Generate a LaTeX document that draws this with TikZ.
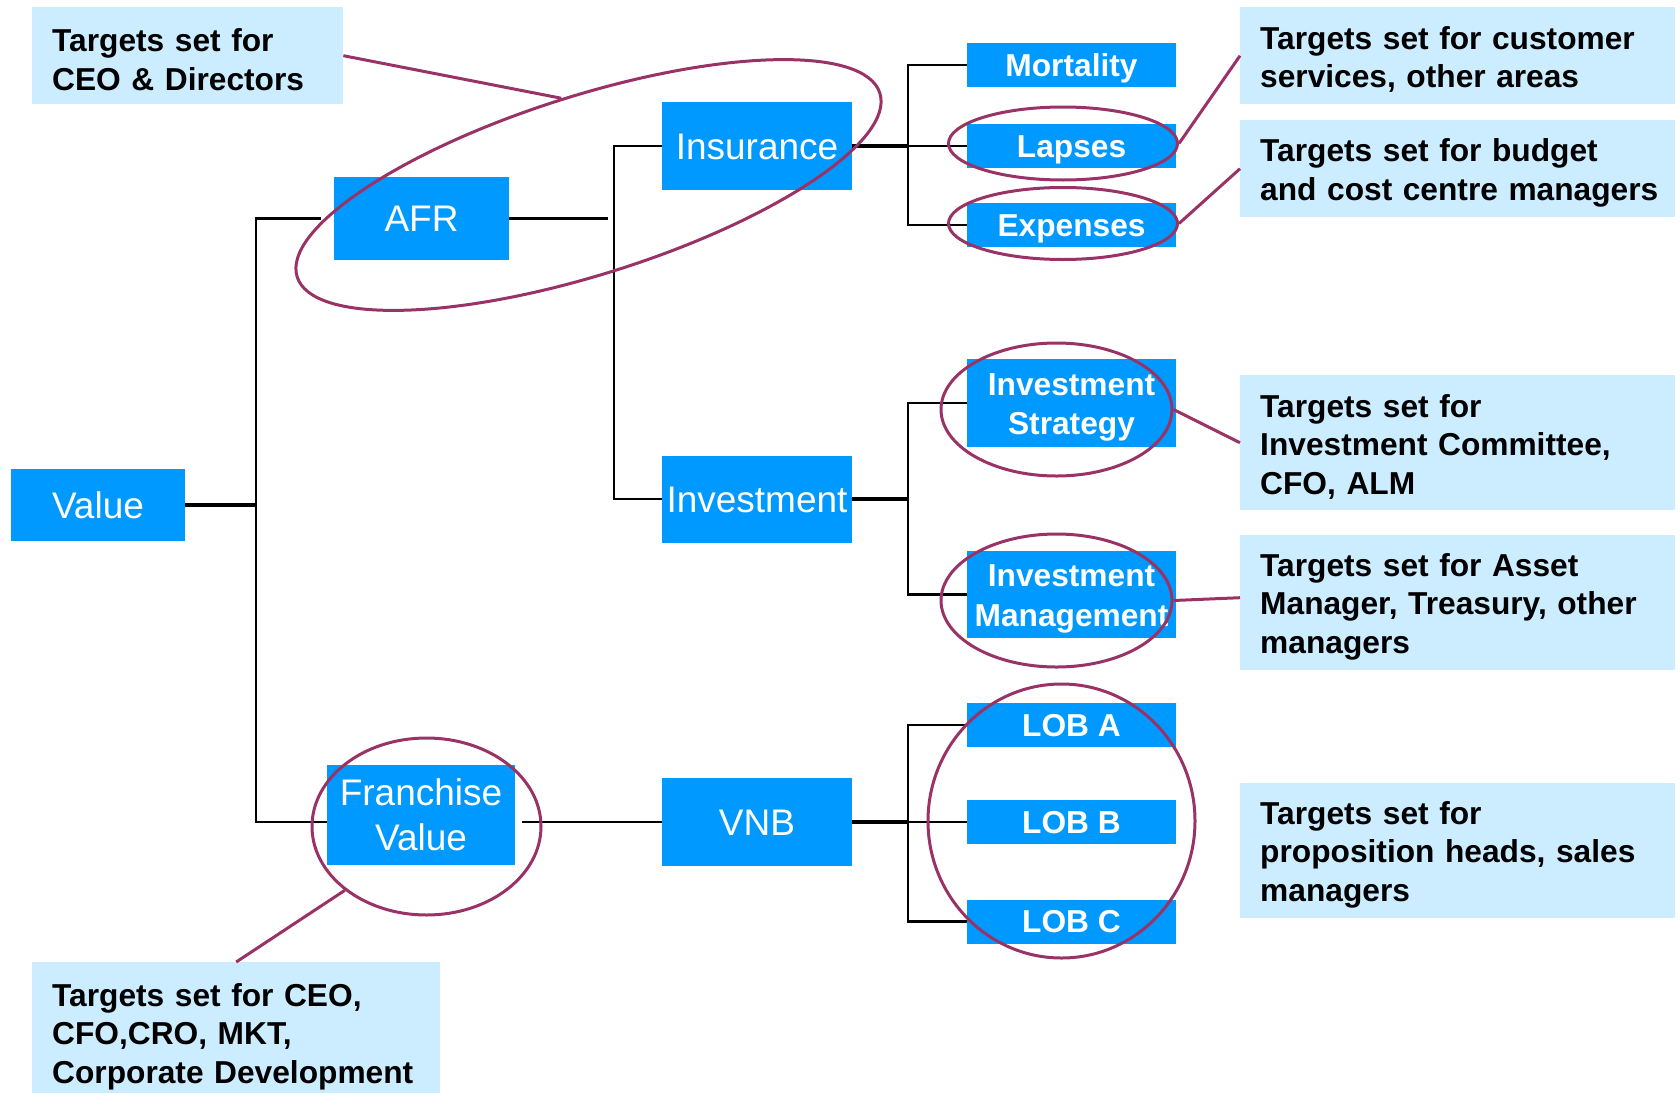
\documentclass[tikz,border=0pt]{standalone}
\usepackage{fontspec}
\setmainfont{Liberation Sans}
\usetikzlibrary{shapes.geometric}
\definecolor{boxblue}{RGB}{0,153,255}
\definecolor{noteblue}{RGB}{204,236,255}
\definecolor{ringpurple}{RGB}{153,51,102}
\newcommand{\notetop}{\rule{0pt}{31pt}}
\begin{document}
\begin{tikzpicture}[x=1pt,y=-1pt,
  conn/.style={draw=black,line width=2.5pt},
  stub/.style={draw=black,line width=3.8pt},
  kpi/.style={fill=boxblue,text=white,inner sep=0pt,minimum width=190pt,minimum height=88pt,
              font=\fontsize{37}{44.5}\selectfont,align=center},
  kpione/.style={kpi,text height=26.5pt,text depth=0pt},
  driver/.style={fill=boxblue,text=white,inner sep=0pt,minimum width=209pt,minimum height=44pt,
              font=\fontsize{31.7}{39.5}\selectfont\bfseries,align=center},
  driverone/.style={driver,text height=22.7pt,text depth=0pt},
  note/.style={fill=noteblue,anchor=north west,inner xsep=20pt,inner ysep=0pt,align=left,
              font=\fontsize{31.7}{38.5}\selectfont\bfseries},
  ring/.style={draw=ringpurple,line width=3pt,ellipse,inner sep=0pt},
  tie/.style={draw=ringpurple,line width=3pt}
]
\useasboundingbox[fill=white] (0,0) rectangle (1680,1092);

% value tree boxes
\node[kpione,minimum width=174pt,minimum height=72pt] (value) at (98,505) {Value};
\node[kpione,minimum width=175pt,minimum height=83pt] (afr) at (421.5,218.5) {AFR};
\node[kpi,minimum width=188pt,minimum height=100pt] (fv) at (421,815) {Franchise\\Value};
\node[kpione] (ins) at (757,146) {Insurance};
\node[kpione,minimum height=87pt] (inv) at (757,499) {Investment};
\node[kpione] (vnb) at (757,822) {VNB};

% drivers
\node[driverone] (mort) at (1071.5,65) {Mortality};
\node[driverone] (lap) at (1071.5,146) {Lapses};
\node[driverone] (exp) at (1071.5,225) {Expenses};
\node[driver,minimum height=88pt] (is) at (1071.5,403) {\notetop Investment\\Strategy};
\node[driver,minimum height=87pt] (im) at (1071.5,594.5) {\notetop Investment\\Management};
\node[driverone] (loba) at (1071.5,725) {LOB A};
\node[driverone] (lobb) at (1071.5,822) {LOB B};
\node[driverone] (lobc) at (1071.5,921.5) {LOB C};

% branch points
\coordinate (j1) at (256,505);
\coordinate (j2) at (614,218.5);
\coordinate (j3) at (908,146);
\coordinate (j4) at (908,499);
\coordinate (j5) at (908,822);

% tree connectors
\draw[conn] ([xshift=-13pt]afr.west) -| (j1) |- (fv.west |- vnb.west);
\draw[conn] (ins.west) -| (j2) |- (inv.west);
\draw[conn] (mort.west) -| (j3) |- (exp.west);
\draw[conn] (j3) -- (lap.west);
\draw[conn] (is.west) -| (j4) |- (im.west);
\draw[conn] (loba.west) -| (j5) |- (lobc.west);
\draw[conn] (j5) -- (lobb.west);
\draw[stub] (value.east) -- (j1);
\draw[conn] (afr.east) -- ([xshift=-6pt]j2);
\draw[stub] (ins.east) -- (j3);
\draw[stub] (inv.east) -- (j4);
\draw[conn] ([xshift=7pt]fv.east |- vnb.west) -- (vnb.west);
\draw[stub] (vnb.east) -- (j5);

% target notes
\node[note,text width=271pt,minimum height=97pt] (c1) at (32,7) {\notetop Targets set for\\CEO \& Directors};
\node[note,text width=395pt,minimum height=97pt] (c2) at (1240,7) {\notetop Targets set for customer\\services, other areas};
\node[note,text width=395pt,minimum height=97pt] (c3) at (1240,120) {\notetop Targets set for budget\\\mbox{and cost centre managers}};
\node[note,text width=395pt,minimum height=135pt] (c4) at (1240,375) {\notetop Targets set for\\Investment Committee,\\CFO, ALM};
\node[note,text width=395pt,minimum height=135pt] (c5) at (1240,535) {\notetop Targets set for Asset\\Manager, Treasury, other\\managers};
\node[note,text width=395pt,minimum height=135pt] (c6) at (1240,783) {\notetop Targets set for\\proposition heads, sales\\managers};
\node[note,text width=368pt,minimum height=141pt] (c7) at (32,962) {\notetop Targets set for CEO,\\CFO,CRO, MKT,\\Corporate Development};

% rings around the measured items
\node[ring,minimum width=611pt,minimum height=179pt,rotate=17.5] (r1) at (588.5,185) {};
\node[ring,minimum width=229pt,minimum height=73pt] (r2) at (1063,143.5) {};
\node[ring,minimum width=229pt,minimum height=72pt] (r3) at (1063,223.5) {};
\node[ring,minimum width=231pt,minimum height=133pt] (r4) at (1056.5,409.5) {};
\node[ring,minimum width=231pt,minimum height=133pt] (r5) at (1056.5,600.5) {};
\node[ring,minimum width=267pt,minimum height=274pt] (r6) at (1061.5,821) {};
\node[ring,minimum width=229pt,minimum height=177pt] (r7) at (426.5,826.5) {};

% ties from rings to notes
\draw[tie] (r1.north) -- (c1.east);
\draw[tie] (r2.east) -- (c2.west);
\draw[tie] (r3.east) -- (c3.west);
\draw[tie] (r4.east) -- (c4.west);
\draw[tie] (r5.east) -- ([yshift=5pt]c5.west);
\draw[tie] (r7.218) -- (c7.north);
\end{tikzpicture}
\end{document}
